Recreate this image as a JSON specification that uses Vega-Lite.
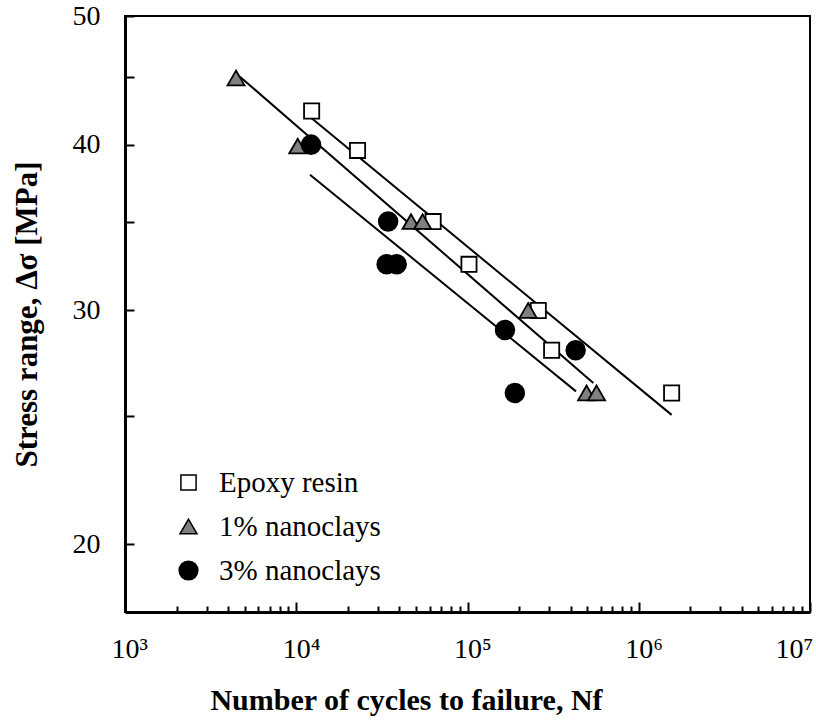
{
  "$schema": "https://vega.github.io/schema/vega-lite/v6.json",
  "width": 685,
  "height": 596,
  "autosize": "none",
  "padding": {"left": 125, "top": 16, "right": 6, "bottom": 112},
  "background": "white",
  "config": {
    "font": "Liberation Serif",
    "view": {"stroke": "black", "strokeWidth": 2},
    "axis": {"grid": false, "domainColor": "black", "domainWidth": 3, "tickColor": "black", "tickWidth": 2, "labelColor": "black", "titleColor": "black", "labelFont": "Liberation Serif", "titleFont": "Liberation Serif"},
    "legend": {"labelFont": "Liberation Serif", "labelColor": "black", "labelFontSize": 29, "labelOffset": 16, "labelLimit": 400, "rowPadding": 14, "padding": 0, "title": null}
  },
  "datasets": {
    "points": [
      {"series": "Epoxy resin", "cycles": 12300, "stress": 42.4},
      {"series": "Epoxy resin", "cycles": 22800, "stress": 39.6},
      {"series": "Epoxy resin", "cycles": 63000, "stress": 35},
      {"series": "Epoxy resin", "cycles": 102000, "stress": 32.5},
      {"series": "Epoxy resin", "cycles": 259000, "stress": 30},
      {"series": "Epoxy resin", "cycles": 310000, "stress": 28},
      {"series": "Epoxy resin", "cycles": 1556000, "stress": 26},
      {"series": "1% nanoclays", "cycles": 4450, "stress": 44.9},
      {"series": "1% nanoclays", "cycles": 10200, "stress": 39.9},
      {"series": "1% nanoclays", "cycles": 46800, "stress": 35},
      {"series": "1% nanoclays", "cycles": 54700, "stress": 35},
      {"series": "1% nanoclays", "cycles": 226000, "stress": 30},
      {"series": "1% nanoclays", "cycles": 496000, "stress": 26},
      {"series": "1% nanoclays", "cycles": 567000, "stress": 26},
      {"series": "3% nanoclays", "cycles": 12200, "stress": 40},
      {"series": "3% nanoclays", "cycles": 34400, "stress": 35},
      {"series": "3% nanoclays", "cycles": 33700, "stress": 32.5},
      {"series": "3% nanoclays", "cycles": 38600, "stress": 32.5},
      {"series": "3% nanoclays", "cycles": 165500, "stress": 29},
      {"series": "3% nanoclays", "cycles": 428000, "stress": 28},
      {"series": "3% nanoclays", "cycles": 189000, "stress": 26}
    ],
    "fits": [
      {"series": "Epoxy resin", "cycles": 12300, "stress": 41.87},
      {"series": "Epoxy resin", "cycles": 1556000, "stress": 25.03},
      {"series": "1% nanoclays", "cycles": 4690, "stress": 45.0},
      {"series": "1% nanoclays", "cycles": 543000, "stress": 26.45},
      {"series": "3% nanoclays", "cycles": 12030, "stress": 37.96},
      {"series": "3% nanoclays", "cycles": 430000, "stress": 26.07}
    ]
  },
  "layer": [
    {
      "data": {"name": "fits"},
      "mark": {"type": "line", "color": "black", "strokeWidth": 2},
      "encoding": {
        "x": {"field": "cycles", "type": "quantitative"},
        "y": {"field": "stress", "type": "quantitative"},
        "detail": {"field": "series"}
      }
    },
    {
      "data": {"name": "points"},
      "mark": {"type": "point", "filled": true, "stroke": "black", "strokeWidth": 1.8, "opacity": 1},
      "encoding": {
        "x": {
          "field": "cycles", "type": "quantitative",
          "scale": {"type": "log", "domain": [1000, 10000000], "nice": false},
          "axis": {
            "values": [1000, 2000, 3000, 4000, 5000, 6000, 7000, 8000, 9000, 10000, 20000, 30000, 40000, 50000, 60000, 70000, 80000, 90000, 100000, 200000, 300000, 400000, 500000, 600000, 700000, 800000, 900000, 1000000, 2000000, 3000000, 4000000, 5000000, 6000000, 7000000, 8000000, 9000000, 10000000],
            "labelExpr": "datum.value == 1000 ? '10³' : datum.value == 10000 ? '10⁴' : datum.value == 100000 ? '10⁵' : datum.value == 1000000 ? '10⁶' : datum.value == 10000000 ? '10⁷' : ''",
            "tickSize": {"condition": {"test": "indexof([1000,10000,100000,1000000,10000000], datum.value) >= 0", "value": -10}, "value": -6},
            "labelFontSize": 28,
            "labelAlign": "left",
            "labelOffset": {"condition": {"test": "datum.value == 10000000", "value": -35}, "value": -14},
            "labelPadding": 33,
            "labelFlush": false,
            "labelOverlap": false,
            "labelBound": false,
            "title": "Number of cycles to failure, Nf",
            "titleFontSize": 30,
            "titleFontWeight": "bold",
            "titleX": 281,
            "titleAlign": "center",
            "titlePadding": 18
          }
        },
        "y": {
          "field": "stress", "type": "quantitative",
          "scale": {"type": "log", "domain": [17.78, 50], "nice": false},
          "axis": {
            "values": [20, 25, 30, 35, 40, 45, 50],
            "labelExpr": "datum.value % 10 == 0 ? datum.label : ''",
            "tickSize": -9,
            "labelFontSize": 28,
            "labelPadding": 34,
            "labelFlush": false,
            "labelOverlap": false,
            "title": "Stress range, Δσ [MPa]",
            "titleFontSize": 31,
            "titleFontWeight": "bold",
            "titlePadding": 29
          }
        },
        "shape": {
          "field": "series", "type": "nominal",
          "scale": {"domain": ["Epoxy resin", "1% nanoclays", "3% nanoclays"], "range": ["square", "triangle-up", "circle"]},
          "legend": {"orient": "none", "legendX": 49, "legendY": 452, "encode": {"symbols": {"update": {"stroke": {"value": "black"}, "strokeWidth": {"value": 1.8}}}}}
        },
        "fill": {
          "field": "series", "type": "nominal",
          "scale": {"domain": ["Epoxy resin", "1% nanoclays", "3% nanoclays"], "range": ["white", "#808080", "black"]},
          "legend": {"orient": "none", "legendX": 49, "legendY": 452, "encode": {"symbols": {"update": {"stroke": {"value": "black"}, "strokeWidth": {"value": 1.8}}}}}
        },
        "size": {
          "field": "series", "type": "nominal",
          "scale": {"domain": ["Epoxy resin", "1% nanoclays", "3% nanoclays"], "range": [230, 350, 220]},
          "legend": {"orient": "none", "legendX": 49, "legendY": 452, "encode": {"symbols": {"update": {"stroke": {"value": "black"}, "strokeWidth": {"value": 1.8}}}}}
        }
      }
    }
  ]
}
